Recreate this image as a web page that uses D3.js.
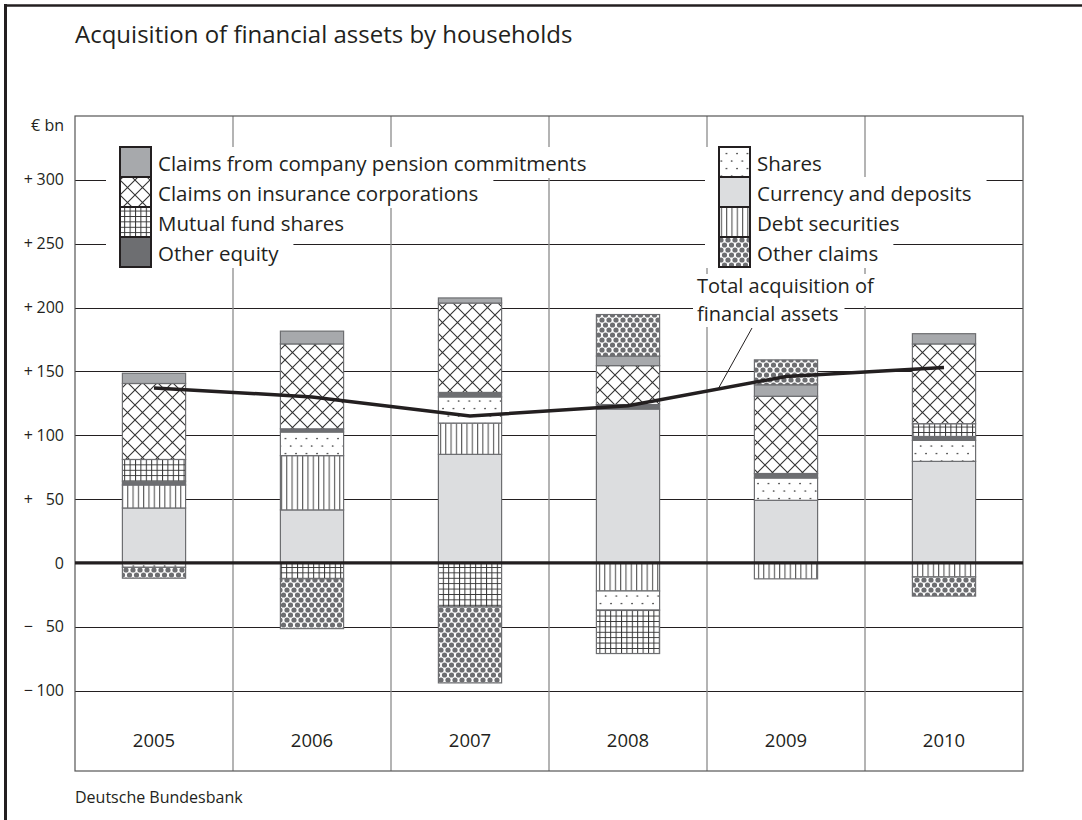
<!DOCTYPE html>
<html>
<head>
<meta charset="utf-8">
<script src="https://cdn.jsdelivr.net/npm/d3@7"></script>
<style>
  body { margin: 0; background: #fff; }
  svg text { font-family: "Open Sans", sans-serif; fill: #231f20; }
</style>
</head>
<body>
<div id="chart"></div>
<script>
// Acquisition of financial assets by households, € bn
const years = ["2005", "2006", "2007", "2008", "2009", "2010"];
const currency    = [43, 41.5, 85, 120.5, 49, 79.5];
const debt        = [18, 42.5, 24.5, -22, -12.5, -11];
const shares      = [-3.5, 18.5, 20.5, -15, 17.5, 16.5];
const otherEquity = [3, 2.5, 3.5, 3.5, 3.5, 3];
const mutualFund  = [17, -12.5, -34.5, -34, 0, 10];
const insurance   = [59.5, 66.5, 70, 30.5, 60.5, 62.5];
const pension     = [8, 10, 4, 7.5, 9, 8];
const otherClaims = [-8.5, -39, -59.5, 32.5, 19.5, -15];
const total       = [137, 130, 115, 123, 146, 153];

const yTicks = [-100, -50, 0, 50, 100, 150, 200, 250, 300];
const yTickLabels = ["− 100", "− 50", "0", "+ 50", "+ 100", "+ 150", "+ 200", "+ 250", "+ 300"];
const yMin = -163, yMax = 350;

const seriesKeys = ["currency", "debt", "shares", "otherEquity", "mutualFund", "insurance", "pension", "otherClaims"];
const seriesNames = {
    pension: "Claims from company pension commitments",
    insurance: "Claims on insurance corporations",
    mutualFund: "Mutual fund shares",
    otherEquity: "Other equity",
    shares: "Shares",
    currency: "Currency and deposits",
    debt: "Debt securities",
    otherClaims: "Other claims"
};
const legendLeft = ["pension", "insurance", "mutualFund", "otherEquity"];
const legendRight = ["shares", "currency", "debt", "otherClaims"];

const table = years.map((yr, i) => ({
    year: yr, currency: currency[i], debt: debt[i], shares: shares[i],
    otherEquity: otherEquity[i], mutualFund: mutualFund[i], insurance: insurance[i],
    pension: pension[i], otherClaims: otherClaims[i]
}));

const W = 1082, H = 820;
const plot = { left: 75, right: 1023, top: 116, bottom: 771 };
const ink = "#231f20";

const svg = d3.select("#chart").append("svg").attr("width", W).attr("height", H);

// patterns
const defs = svg.append("defs");
function pattern(id, w, h) {
    const p = defs.append("pattern").attr("id", id).attr("patternUnits", "userSpaceOnUse")
        .attr("width", w).attr("height", h);
    p.append("rect").attr("width", w).attr("height", h).attr("fill", "#fff");
    return p;
}
pattern("xhatch", 15, 15).append("path").attr("d", "M0,0L15,15M15,0L0,15")
    .attr("stroke", "#333").attr("stroke-width", 1.1).attr("fill", "none");
pattern("grid", 5.4, 5.4).append("path").attr("d", "M0.5,0V5.4M0,0.5H5.4")
    .attr("stroke", "#333").attr("stroke-width", 1).attr("fill", "none");
pattern("vlines", 5.3, 10).append("path").attr("d", "M0.6,0V10")
    .attr("stroke", "#444").attr("stroke-width", 1).attr("fill", "none");
const dotP = pattern("dots", 10.5, 15);
[[2, 3.5], [7.25, 11]].forEach(([cx, cy]) =>
    dotP.append("circle").attr("cx", cx).attr("cy", cy).attr("r", 0.85).attr("fill", "#333"));
const circP = pattern("circles", 7, 10);
[[0, 0], [7, 0], [0, 10], [7, 10], [3.5, 5]].forEach(([cx, cy]) =>
    circP.append("circle").attr("cx", cx).attr("cy", cy).attr("r", 2.6).attr("fill", "#6d6e71"));

const fills = {
    pension: "#a7a9ac",
    insurance: "url(#xhatch)",
    mutualFund: "url(#grid)",
    otherEquity: "#6d6e71",
    shares: "url(#dots)",
    currency: "#dcdddf",
    debt: "url(#vlines)",
    otherClaims: "url(#circles)"
};

// scales
const y = d3.scaleLinear().domain([yMin, yMax]).range([plot.bottom, plot.top]);
const xCol = d3.scaleBand().domain(years).range([plot.left, plot.right]).padding(0);
const xBar = d3.scaleBand().domain(years).range([plot.left, plot.right]).paddingInner(0.6).paddingOuter(0.3);

// title, unit, source
svg.append("text").attr("x", 75).attr("y", 43).attr("font-size", 24)
    .text("Acquisition of financial assets by households");
svg.append("text").attr("x", 64).attr("y", 131).attr("text-anchor", "end").attr("font-size", 16)
    .text("€ bn");
svg.append("text").attr("x", 75).attr("y", 803).attr("font-size", 16).text("Deutsche Bundesbank");

// outer frame
svg.append("line").attr("x1", 5.5).attr("x2", 5.5).attr("y1", 4).attr("y2", H)
    .attr("stroke", ink).attr("stroke-width", 3);
svg.append("line").attr("x1", 4).attr("x2", W).attr("y1", 5.5).attr("y2", 5.5)
    .attr("stroke", ink).attr("stroke-width", 2.5);

// grid
const gridG = svg.append("g");
gridG.selectAll(".hgrid").data(yTicks.filter(d => d !== 0)).join("line")
    .attr("x1", plot.left).attr("x2", plot.right)
    .attr("y1", d => Math.round(y(d)) + 0.5).attr("y2", d => Math.round(y(d)) + 0.5)
    .attr("stroke", ink).attr("stroke-width", 1);
gridG.selectAll(".vgrid").data(years.slice(1)).join("line")
    .attr("x1", d => xCol(d)).attr("x2", d => xCol(d))
    .attr("y1", plot.top).attr("y2", plot.bottom)
    .attr("stroke", "#8c8c8c").attr("stroke-width", 1.3);
gridG.append("rect").attr("x", plot.left).attr("y", plot.top)
    .attr("width", plot.right - plot.left).attr("height", plot.bottom - plot.top)
    .attr("fill", "none").attr("stroke", "#555").attr("stroke-width", 1.2);

// y axis labels
const yAxis = svg.append("g").attr("transform", "translate(64,0)")
    .call(d3.axisLeft(y).tickValues(yTicks).tickSize(0).tickPadding(0)
        .tickFormat((d, i) => yTickLabels[i]));
yAxis.select(".domain").remove();
yAxis.selectAll("text").each(function (d, i) {
    const parts = yTickLabels[i].split(" ");
    const t = d3.select(this).text(null).attr("font-size", 16)
        .attr("font-family", "'Open Sans', sans-serif").attr("fill", ink);
    if (parts.length > 1) {
        t.append("tspan").attr("x", -31).text(parts[0]);
        t.append("tspan").attr("x", 0).text(parts[1]);
    } else {
        t.append("tspan").attr("x", 0).text(parts[0]);
    }
});

// year labels
const xAxis = svg.append("g").attr("transform", "translate(0,734)")
    .call(d3.axisBottom(xCol).tickSize(0).tickPadding(0));
xAxis.select(".domain").remove();
xAxis.selectAll("text").attr("font-size", 18.5).attr("font-family", "'Open Sans', sans-serif").attr("fill", ink);

// white boxes behind legend and annotation texts
const maskG = svg.append("g");
const legendG = svg.append("g");

function drawLegend(keys, sx) {
    keys.forEach((k, i) => {
        const top = 147 + i * 30;
        const txt = legendG.append("text").attr("x", sx + 38).attr("y", top + 23.5)
            .attr("font-size", 20.5).text(seriesNames[k]);
        const len = txt.node().getComputedTextLength();
        maskG.append("rect").attr("x", sx - 14).attr("y", top)
            .attr("width", 52 + len + 15).attr("height", 31).attr("fill", "#fff");
        legendG.append("rect").attr("x", sx).attr("y", top).attr("width", 31).attr("height", 30)
            .attr("fill", fills[k]).attr("stroke", ink).attr("stroke-width", 2);
    });
}
drawLegend(legendLeft, 120);
drawLegend(legendRight, 719);

// stacked bars
const stack = d3.stack().keys(seriesKeys).offset(d3.stackOffsetDiverging);
const layers = stack(table);
svg.append("g").selectAll("g").data(layers).join("g")
    .attr("fill", d => fills[d.key])
    .selectAll("rect").data(d => d.filter(s => s[1] !== s[0])).join("rect")
    .attr("x", d => xBar(d.data.year))
    .attr("width", xBar.bandwidth())
    .attr("y", d => y(Math.max(d[0], d[1])))
    .attr("height", d => Math.abs(y(d[0]) - y(d[1])))
    .attr("stroke", "#6d6e71").attr("stroke-width", 1.2);

// zero line
svg.append("line").attr("x1", plot.left).attr("x2", plot.right)
    .attr("y1", y(0)).attr("y2", y(0)).attr("stroke", ink).attr("stroke-width", 3.2);

// total line
const linePts = years.map((yr, i) => [xCol(yr) + xCol.bandwidth() / 2, y(total[i])]);
svg.append("path").datum(linePts).attr("d", d3.line())
    .attr("fill", "none").attr("stroke", ink).attr("stroke-width", 3.5);

// annotation
const annoLines = ["Total acquisition of", "financial assets"];
const annoBase = [293, 321];
annoLines.forEach((s, i) => {
    const t = svg.append("text").attr("x", 697).attr("y", annoBase[i]).attr("font-size", 20).text(s);
    const len = t.node().getComputedTextLength();
    maskG.append("rect").attr("x", 693).attr("y", i === 0 ? 274 : 304)
        .attr("width", len + (i === 0 ? 20 : 10)).attr("height", i === 0 ? 32 : 23).attr("fill", "#fff");
});
const tFrac = 0.57;
const leadEnd = [
    linePts[3][0] + tFrac * (linePts[4][0] - linePts[3][0]),
    linePts[3][1] + tFrac * (linePts[4][1] - linePts[3][1])
];
svg.append("line").attr("x1", 752).attr("y1", 328).attr("x2", leadEnd[0]).attr("y2", leadEnd[1])
    .attr("stroke", ink).attr("stroke-width", 1);
</script>
</body>
</html>
